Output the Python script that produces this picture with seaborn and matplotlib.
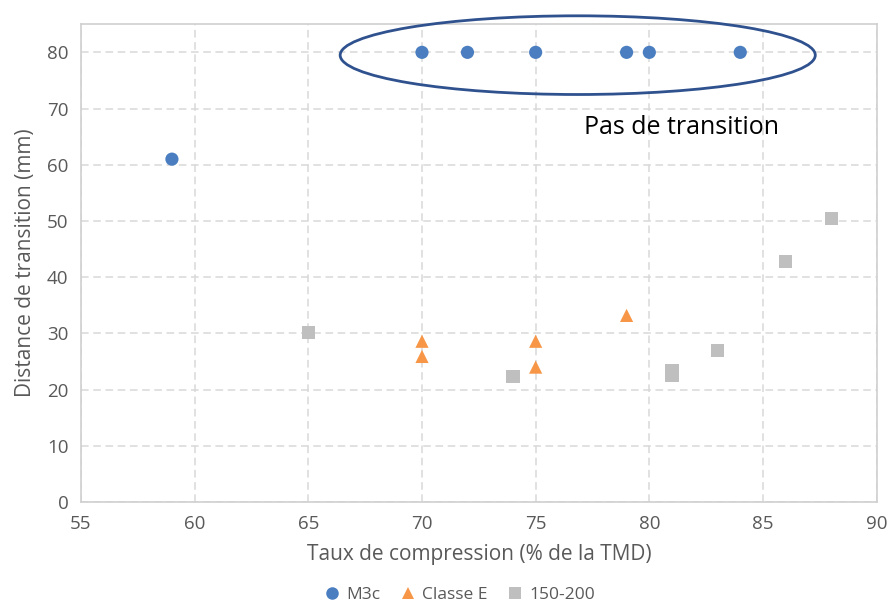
import numpy as np, pandas as pd, matplotlib
matplotlib.use("Agg")
import matplotlib.pyplot as plt
import seaborn as sns
from matplotlib.patches import Ellipse

# data
m3c_x=[59,70,72,75,79,80,84]
m3c_y=[61,80,80,80,80,80,80]
clE_x=[70,70,75,75,79]
clE_y=[28.6,25.9,28.6,24.0,33.2]
g_x=[65,74,81,81,83,86,88]
g_y=[30.1,22.4,23.3,22.5,26.9,42.8,50.4]
SERIES=["M3c","Classe E","150-200"]
COLORS={"M3c":"#4A7EC0","Classe E":"#F79646","150-200":"#BFBFBF"}
MARKERS={"M3c":"o","Classe E":"^","150-200":"s"}

df=pd.concat([
    pd.DataFrame({"x":m3c_x,"y":m3c_y,"serie":"M3c"}),
    pd.DataFrame({"x":clE_x,"y":clE_y,"serie":"Classe E"}),
    pd.DataFrame({"x":g_x,"y":g_y,"serie":"150-200"}),
],ignore_index=True)

sns.set_style("white")
plt.rcParams["font.family"]=["Open Sans","DejaVu Sans"]
fig=plt.figure(figsize=(8.92,6.06),dpi=100)
ax=fig.add_axes([0.0908,0.1716,0.892,0.7884])
sns.scatterplot(data=df,x="x",y="y",hue="serie",style="serie",hue_order=SERIES,style_order=SERIES,
                palette=COLORS,markers=MARKERS,s=90,linewidth=0,ax=ax,zorder=3)
ax.set_xlim(55,90); ax.set_ylim(0,85)
ax.set_xticks(range(55,91,5)); ax.set_yticks(range(0,81,10))
ax.grid(True,color="#D9D9D9",linestyle=(0,(5,3)),linewidth=1.1)
for s in ax.spines.values(): s.set_color("#D0D0D0"); s.set_linewidth(1.2)
ax.tick_params(colors="#595959",labelsize=13.5,length=0,pad=9)
ax.set_xlabel("Taux de compression (% de la TMD)",fontsize=15,color="#595959",labelpad=8)
ax.set_ylabel("Distance de transition (mm)",fontsize=15,color="#595959",labelpad=8)
ax.add_patch(Ellipse((76.85,79.5),20.9,14.0,fill=False,edgecolor="#2F528F",linewidth=2,zorder=4,clip_on=False))
ax.text(81.4,66.7,"Pas de transition",fontsize=18,color="black",ha="center",va="center")
h,l=ax.get_legend_handles_labels()
ax.legend(h,l,loc="lower center",bbox_to_anchor=(0.47,-0.245),ncol=3,frameon=False,
          fontsize=12.5,labelcolor="#595959",handletextpad=-0.2,columnspacing=0.6,markerscale=0.95)
fig.savefig("out.png",dpi=100)
